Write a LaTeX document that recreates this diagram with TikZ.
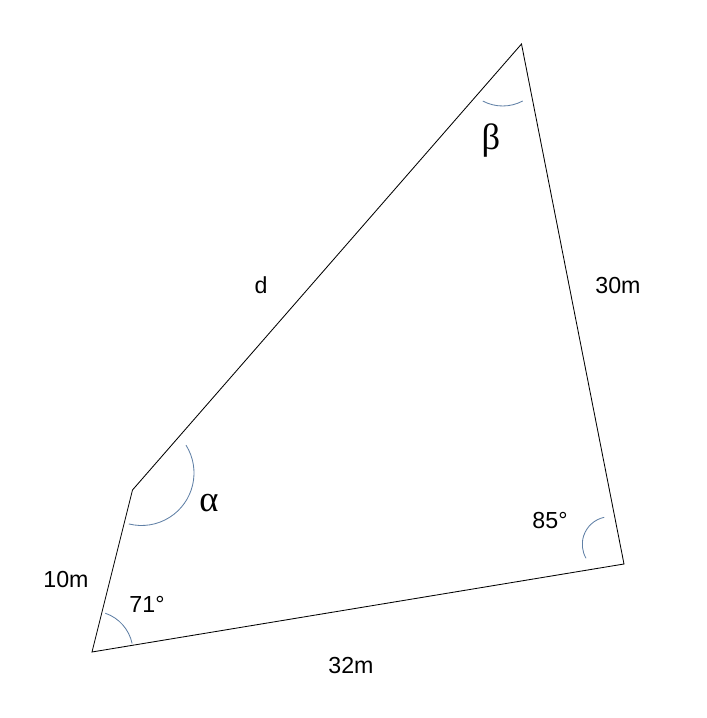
\documentclass[tikz,border=0pt]{standalone}
\usepackage{fontspec}
\setmainfont{Liberation Sans}
\newfontfamily\greekfont{Liberation Serif}
\usepackage{xcolor}
\definecolor{arcblue}{RGB}{96,128,166}

\begin{document}
\begin{tikzpicture}[x=0.025cm, y=0.025cm,
    side/.style={black, line width=0.6pt},
    anglearc/.style={arcblue, line width=0.6pt},
    lbl/.style={font=\fontsize{16.5}{18}\selectfont, inner sep=0pt},
    greek/.style={font=\fontsize{26}{28}\selectfont\greekfont, inner sep=0pt}]
  \useasboundingbox (0,0) rectangle (707,718);
  % Hjoerner i firkanten
  \coordinate (A) at (92,66);
  \coordinate (B) at (624,154);
  \coordinate (C) at (521.5,674);
  \coordinate (D) at (132.5,228);
  % Sider
  \draw[side] (A) -- (B) -- (C) -- (D) -- cycle;
  % Vinkelbuer
  \draw[anglearc] (A) ++(12:41) arc (12:71:41);
  \draw[anglearc] (141.5,245) ++(32:52.5) arc (32:-104:52.5);
  \draw[anglearc] (502.7,654.5) ++(242:42.5) arc (242:298:42.5);
  \draw[anglearc] (610,173.6) ++(102:27.7) arc (102:210:27.7);
  % Tekster
  \node[lbl] (lenD) at (261,433) {d};
  \node[lbl] (lenBC) at (618,432) {30m};
  \node[lbl] (lenAD) at (66,138) {10m};
  \node[lbl] (lenAB) at (351,52) {32m};
  \node[lbl] (angA) at (147,114) {71°};
  \node[lbl] (angB) at (550,197) {85°};
  \node[greek] (alpha) at (209,215) {α};
  \node[greek] (beta) at (491,577) {β};
\end{tikzpicture}
\end{document}
